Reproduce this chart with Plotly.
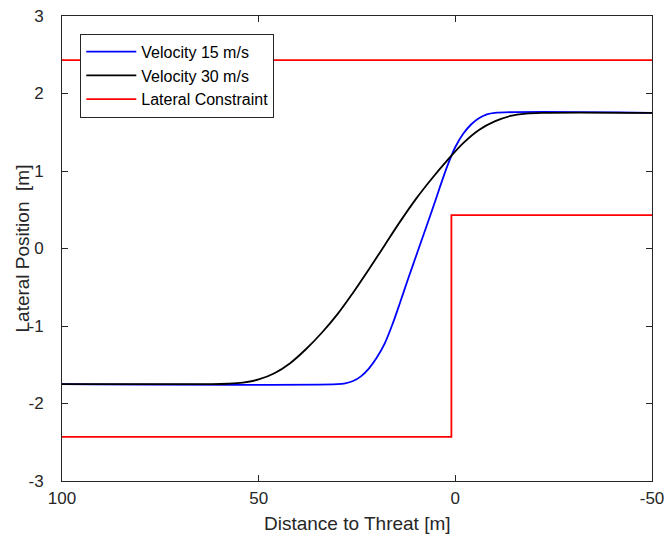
import plotly.graph_objects as go

# Lateral path for the slower vehicle (distance to threat [m], lateral position [m])
v15_dist = [100, 30, 28, 26, 24, 22, 20, 18, 16, 14, 12, 10, 8, 6, 4, 2, 0,
            -2, -4, -6, -8, -10, -50]
v15_lat = [-1.75, -1.75, -1.74, -1.71, -1.65, -1.55, -1.41, -1.23, -0.98, -0.69,
           -0.39, -0.10, 0.19, 0.48, 0.78, 1.07, 1.31, 1.48, 1.60, 1.68, 1.73,
           1.75, 1.75]

# Lateral path for the faster vehicle
v30_dist = [100, 62, 58, 54, 50, 46, 42, 38, 34, 30, 26, 22, 18, 14, 10, 6, 2,
            -2, -6, -10, -14, -18, -22, -50]
v30_lat = [-1.75, -1.75, -1.745, -1.73, -1.69, -1.61, -1.48, -1.30, -1.09, -0.85,
           -0.57, -0.27, 0.04, 0.35, 0.64, 0.90, 1.14, 1.36, 1.53, 1.64, 1.71,
           1.74, 1.75, 1.75]

# Road boundaries: upper edge, and lower edge that steps up at the threat
upper_dist = [100, -50]
upper_lat = [2.43, 2.43]
lower_dist = [100, 1, 1, -50]
lower_lat = [-2.43, -2.43, 0.43, 0.43]

x_ticks = [100, 50, 0, -50]
y_ticks = [-3, -2, -1, 0, 1, 2, 3]

font = "Liberation Sans, Arial, Helvetica, sans-serif"
ink = "#262626"

fig = go.Figure()
fig.add_trace(go.Scatter(x=v15_dist, y=v15_lat, mode="lines", name="Velocity 15 m/s",
                         line=dict(color="#0000ff", width=1.8, shape="spline", smoothing=1)))
fig.add_trace(go.Scatter(x=v30_dist, y=v30_lat, mode="lines", name="Velocity 30 m/s",
                         line=dict(color="#000000", width=1.8, shape="spline", smoothing=1)))
fig.add_trace(go.Scatter(x=upper_dist + [None] + lower_dist,
                         y=upper_lat + [None] + lower_lat,
                         mode="lines", name="Lateral Constraint",
                         line=dict(color="#ff0000", width=1.8)))

axis_common = dict(
    showgrid=False, zeroline=False, showline=True, mirror="ticks",
    linecolor=ink, linewidth=1, ticks="inside", ticklen=6,
    tickcolor=ink, tickfont=dict(family=font, size=17, color=ink),
    automargin=False,
)

fig.update_layout(
    width=665, height=539,
    margin=dict(l=62, r=13, t=16, b=58),
    paper_bgcolor="white", plot_bgcolor="white",
    font=dict(family=font, color=ink),
    xaxis=dict(range=[100, -50], tickvals=x_ticks,
               ticktext=[str(v) for v in x_ticks], ticklabelstandoff=2,
               **axis_common),
    yaxis=dict(range=[-3, 3], tickvals=y_ticks,
               ticktext=[str(v) for v in y_ticks], ticklabelstandoff=14,
               **axis_common),
    legend=dict(x=0.031, y=0.962, xanchor="left", yanchor="top",
                bgcolor="white", bordercolor=ink, borderwidth=1,
                font=dict(family=font, size=16, color="#000000"),
                tracegroupgap=0, itemwidth=50),
    showlegend=True,
    annotations=[
        dict(text="Distance to Threat [m]", xref="paper", yref="paper",
             x=0.5, y=0, yshift=-42, xanchor="center", yanchor="middle",
             showarrow=False, font=dict(family=font, size=19, color=ink)),
        dict(text="Lateral Position\u00a0\u00a0[m]", xref="paper", yref="paper",
             x=0, y=0.5, xshift=-40, xanchor="center", yanchor="middle",
             textangle=-90, showarrow=False,
             font=dict(family=font, size=19, color=ink)),
    ],
)

fig.write_html("out.html")
